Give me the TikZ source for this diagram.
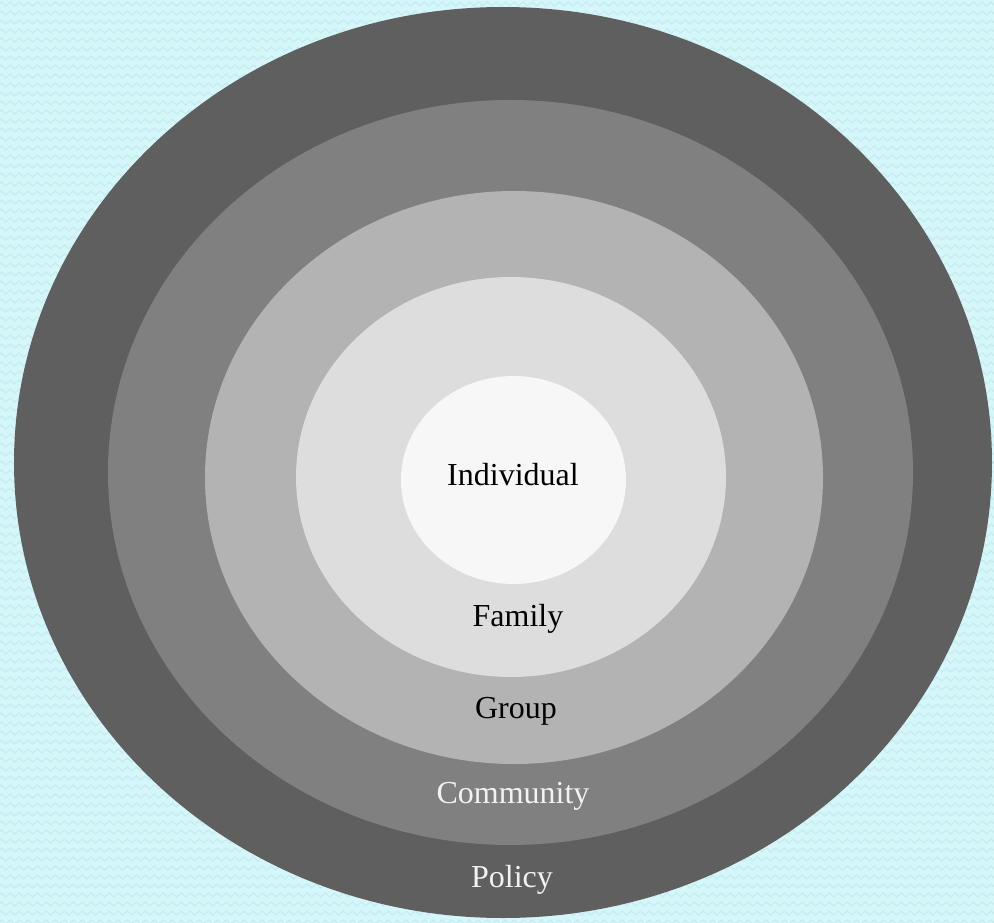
\documentclass[tikz,border=0pt]{standalone}
\usepackage{fontspec}
\setmainfont{Liberation Serif}
\usetikzlibrary{decorations.pathmorphing}
\definecolor{bgcyan}{HTML}{D6F7FA}
\definecolor{zigcyan}{HTML}{C6EDF1}
\definecolor{ringA}{HTML}{5F5F5F}
\definecolor{ringB}{HTML}{808080}
\definecolor{ringC}{HTML}{B3B3B3}
\definecolor{ringD}{HTML}{DDDDDD}
\definecolor{ringE}{HTML}{F7F7F7}
\definecolor{lighttext}{HTML}{F2F2F2}
\tikzset{
  lbl/.style={anchor=base, inner sep=0pt, font=\fontsize{32}{38}\selectfont},
  darklbl/.style={lbl, text=black},
  whitelbl/.style={lbl, text=lighttext},
  zig/.style={draw=zigcyan, line width=1.3pt, decorate,
    decoration={zigzag, segment length=9pt, amplitude=2pt}}
}
\begin{document}
\begin{tikzpicture}[x=1pt,y=-1pt]
\useasboundingbox (0,0) rectangle (994,923);
\begin{scope}
\clip (0,0) rectangle (994,923);
\fill[bgcyan] (0,0) rectangle (994,923);
\foreach \r in {0,...,103}{
  \draw[zig] (-10,{4+9*\r}) -- (1004,{4+9*\r});
}
\fill[ringA] (503,462.5) ellipse [x radius=489pt, y radius=455.5pt];
\fill[ringB] (510.5,472.5) ellipse [x radius=402.5pt, y radius=372.5pt];
\fill[ringC] (514,477.5) ellipse [x radius=309pt, y radius=286.5pt];
\fill[ringD] (511,477) ellipse [x radius=215pt, y radius=200pt];
\fill[ringE] (513.5,480) ellipse [x radius=112.5pt, y radius=104pt];
\end{scope}
\node[darklbl] (individual) at (513,485.5) {Individual};
\node[darklbl] (family) at (518,626) {Family};
\node[darklbl] (group) at (516,718) {Group};
\node[whitelbl] (community) at (513,803) {Community};
\node[whitelbl] (policy) at (512,887) {Policy};
\end{tikzpicture}
\end{document}
